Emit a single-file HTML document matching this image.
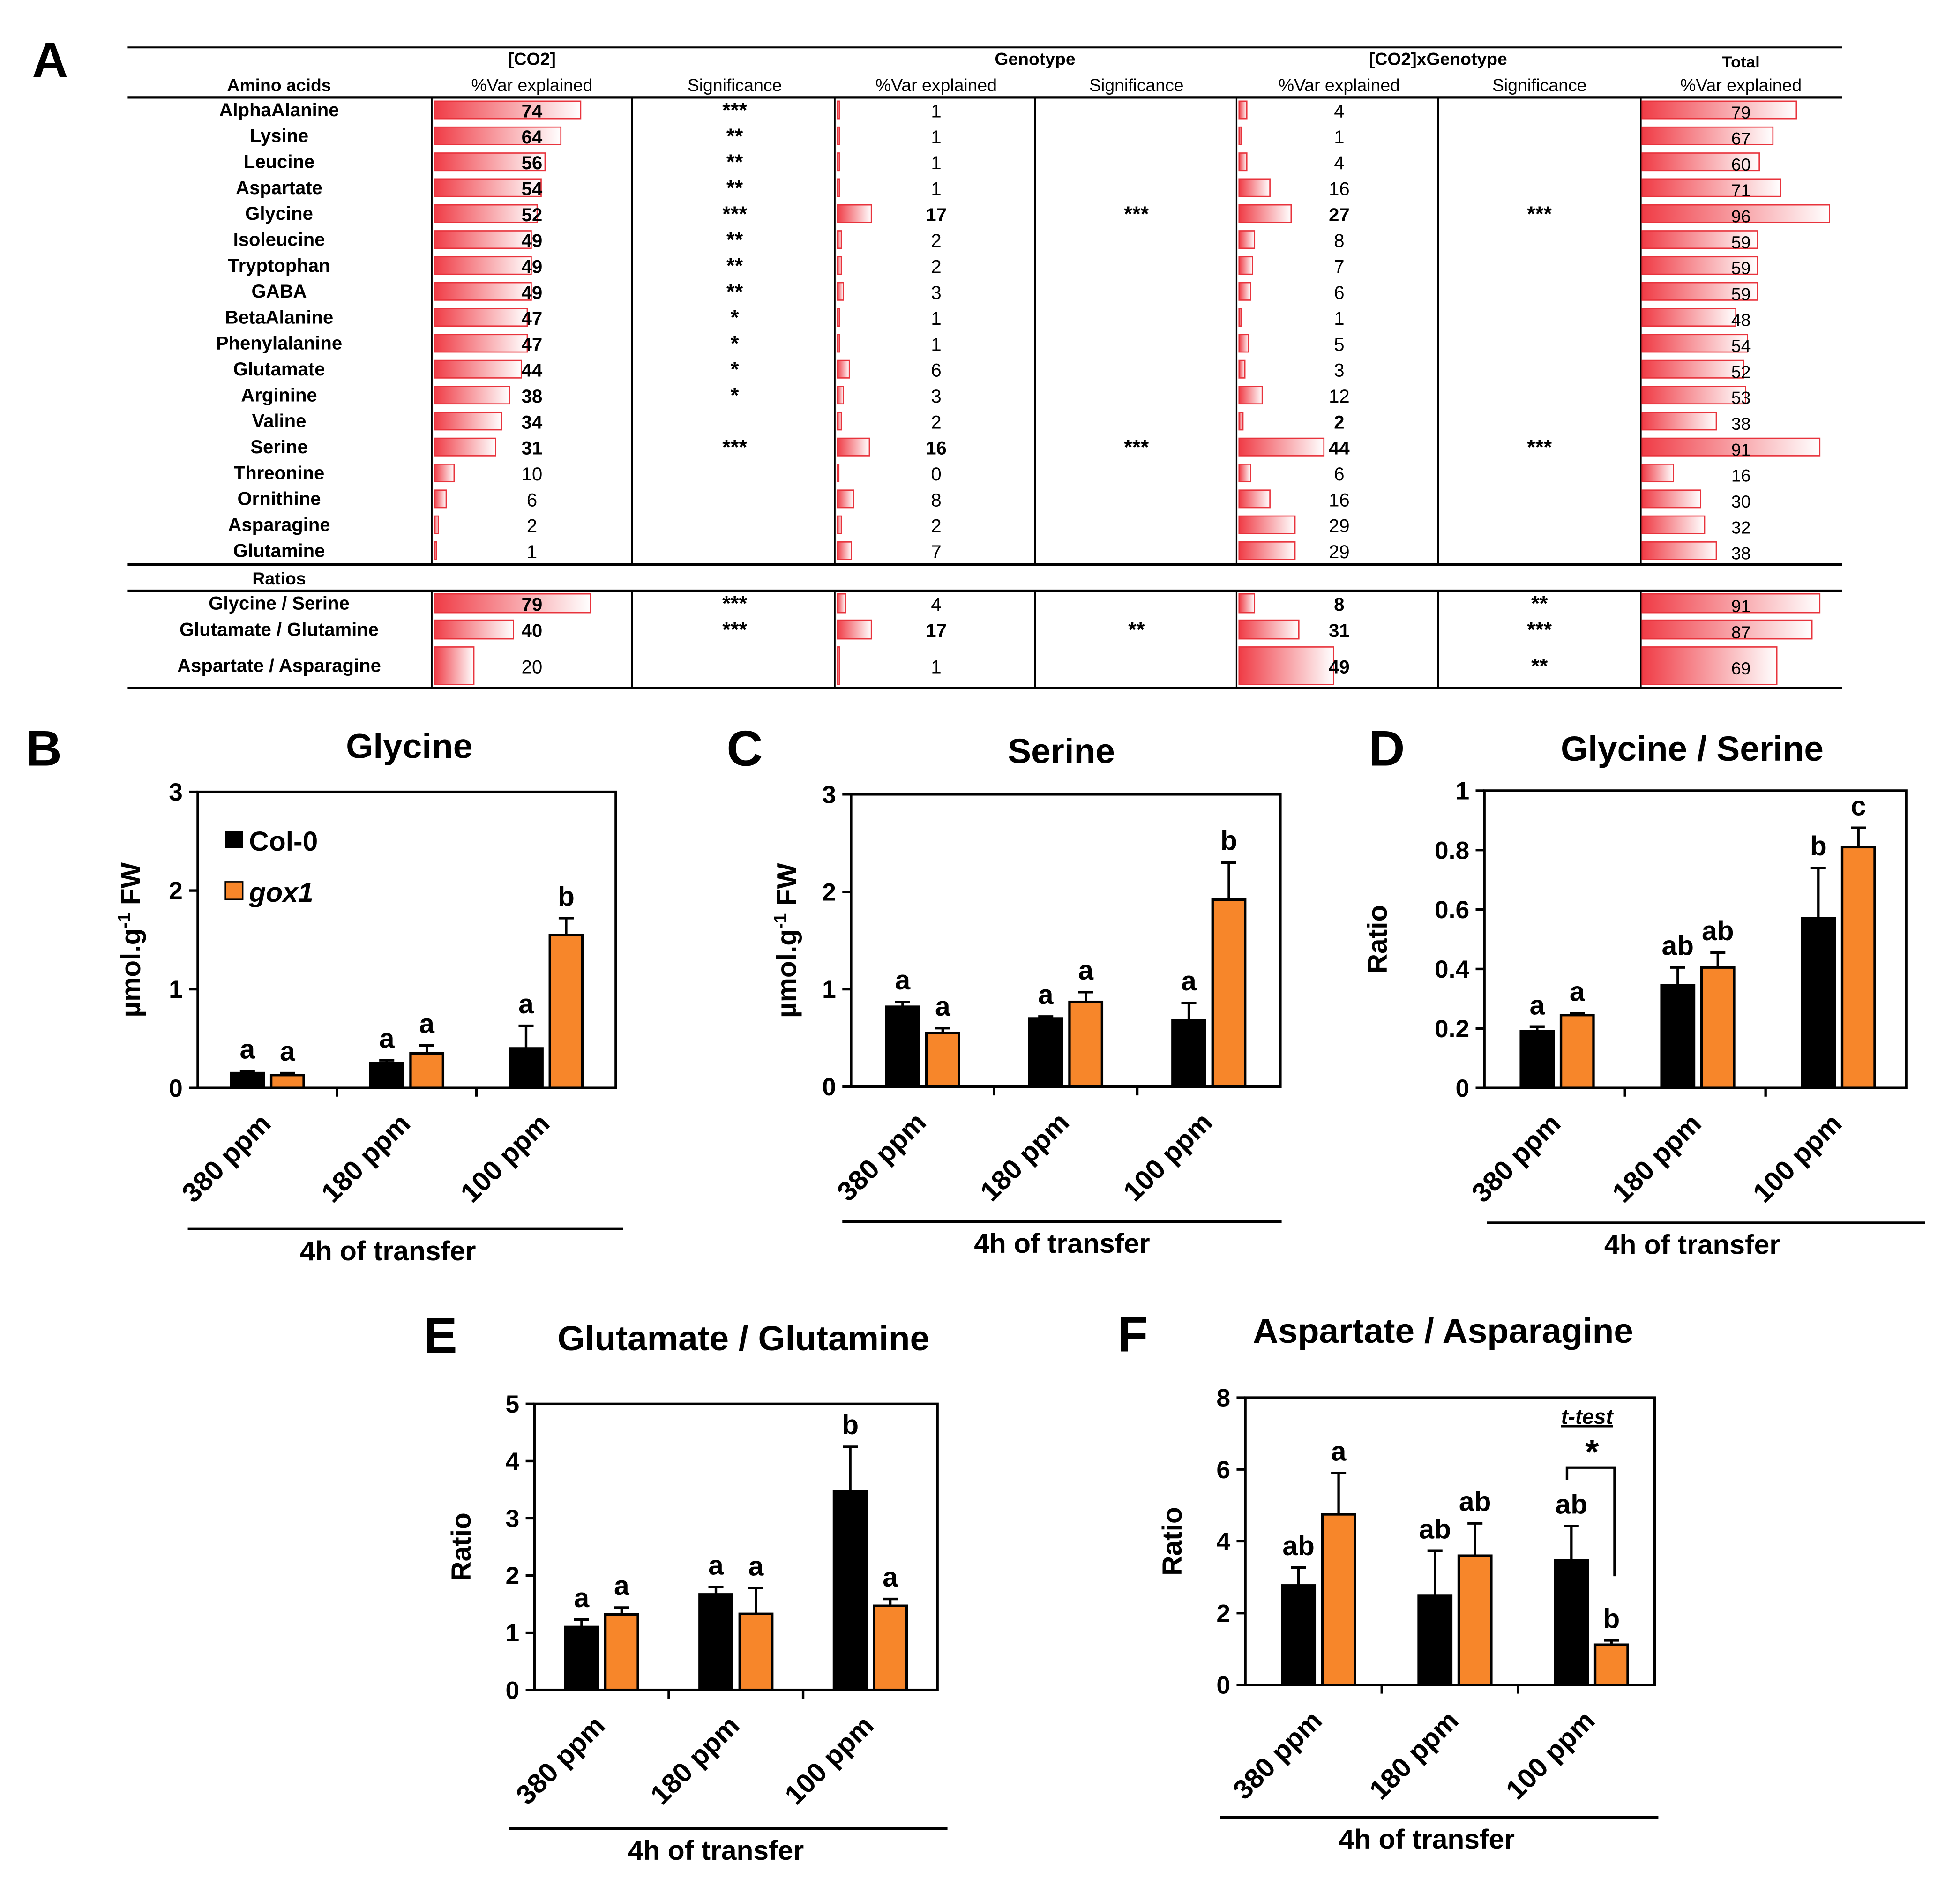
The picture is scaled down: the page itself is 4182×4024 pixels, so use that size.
<!DOCTYPE html>
<html><head><meta charset="utf-8"><style>
html,body{margin:0;padding:0;background:#fff}
svg{display:block;font-family:"Liberation Sans",Arial,sans-serif}
</style></head><body>
<svg id="fig" xmlns="http://www.w3.org/2000/svg" width="4182" height="4024" viewBox="0 0 1566 1510" preserveAspectRatio="none">
<defs><linearGradient id="rg" x1="0" x2="1" y1="0" y2="0"><stop offset="0" stop-color="#f03c46"/><stop offset="1" stop-color="#ffffff"/></linearGradient></defs>
<g id="table"></g>
<g id="charts"></g>
</svg>
<script>
const aaNames=["AlphaAlanine","Lysine","Leucine","Aspartate","Glycine","Isoleucine","Tryptophan","GABA","BetaAlanine","Phenylalanine","Glutamate","Arginine","Valine","Serine","Threonine","Ornithine","Asparagine","Glutamine"];
const co2Var=[74,64,56,54,52,49,49,49,47,47,44,38,34,31,10,6,2,1];
const co2Sig=["***","**","**","**","***","**","**","**","*","*","*","*","","***","","","",""];
const co2Bold=[1,1,1,1,1,1,1,1,1,1,1,1,1,1,0,0,0,0];
const genoVar=[1,1,1,1,17,2,2,3,1,1,6,3,2,16,0,8,2,7];
const genoSig=["","","","","***","","","","","","","","","***","","","",""];
const cxgVar=[4,1,4,16,27,8,7,6,1,5,3,12,2,44,6,16,29,29];
const cxgSig=["","","","","***","","","","","","","","","***","","","",""];
const cxgBold=[0,0,0,0,1,0,0,0,0,0,0,0,1,1,0,0,0,0];
const totalVar=[79,67,60,71,96,59,59,59,48,54,52,53,38,91,16,30,32,38];
const ratioNames=["Glycine / Serine","Glutamate / Glutamine","Aspartate / Asparagine"];
const rCo2=[79,40,20],rCo2Sig=["***","***",""],rCo2Bold=[1,1,0];
const rGeno=[4,17,1],rGenoSig=["","**",""],rGenoBold=[0,1,0];
const rCxg=[8,31,49],rCxgSig=["**","***","**"],rCxgBold=[1,1,1];
const rTotal=[91,87,69];

const groups=["380 ppm","180 ppm","100 ppm"];
const glyCol=[0.15,0.25,0.40],glyColErr=[0.02,0.03,0.23],glyGox=[0.13,0.35,1.55],glyGoxErr=[0.02,0.08,0.17];
const glyLetCol=["a","a","a"],glyLetGox=["a","a","b"];
const serCol=[0.82,0.70,0.68],serColErr=[0.05,0.02,0.18],serGox=[0.55,0.87,1.92],serGoxErr=[0.05,0.10,0.38];
const serLetCol=["a","a","a"],serLetGox=["a","a","b"];
const gsCol=[0.19,0.345,0.57],gsColErr=[0.015,0.06,0.17],gsGox=[0.245,0.405,0.81],gsGoxErr=[0.006,0.05,0.065];
const gsLetCol=["a","ab","b"],gsLetGox=["a","ab","c"];
const ggCol=[1.10,1.67,3.47],ggColErr=[0.13,0.13,0.78],ggGox=[1.32,1.33,1.47],ggGoxErr=[0.12,0.45,0.12];
const ggLetCol=["a","a","b"],ggLetGox=["a","a","a"];
const aaCol=[2.77,2.48,3.47],aaColErr=[0.5,1.25,0.95],aaGox=[4.75,3.6,1.12],aaGoxErr=[1.15,0.9,0.12];
const aaLetCol=["ab","ab","ab"],aaLetGox=["a","ab","b"];

const NS="http://www.w3.org/2000/svg";
function mk(parent,tag,attrs,txt){const e=document.createElementNS(NS,tag);for(const k in attrs)e.setAttribute(k,attrs[k]);if(txt!==undefined)e.textContent=txt;parent.appendChild(e);return e;}
const T=document.getElementById('table');
function line(p,x1,y1,x2,y2,w){return mk(p,'line',{x1,y1,x2,y2,stroke:'#000','stroke-width':w||1.5});}
function txt(p,x,y,s,size,opts){opts=opts||{};return mk(p,'text',{x,y,'font-size':size,'font-weight':opts.bold?'bold':'normal','text-anchor':opts.anchor||'middle','font-style':opts.italic?'italic':'normal',fill:'#000'},s);}

line(T,102,38,1472,38,1.5);line(T,102,78,1472,78,2);line(T,102,452,1472,452,2);line(T,102,473,1472,473,2);line(T,102,551,1472,551,2);
[345,505,667,827,988,1149,1311].forEach(x=>{line(T,x,78,x,452,1.2);line(T,x,473,x,551,1.2);});
[["[CO2]",425],["Genotype",827],["[CO2]xGenotype",1149]].forEach(h=>{let e=txt(T,h[1],52,h[0],14,{bold:true});});
let tt=txt(T,1391,54,"Total",13,{bold:true});
[["Amino acids",223],["%Var explained",425],["Significance",587],["%Var explained",748],["Significance",908],["%Var explained",1070],["Significance",1230],["%Var explained",1391]].forEach(h=>{let e=txt(T,h[1],73,h[0],14,{bold:h[0]=="Amino acids"});});
let rl=txt(T,223,468,"Ratios",14,{bold:true});
function bar(x,y,h,v,k){const r=mk(T,'rect',{x,y,width:Math.max(v*k,1.2),height:h,fill:'url(#rg)',stroke:'#e8333c','stroke-width':1});}
function row(y,name,c,cs,cb,g,gs,gb,x,xs,xb,t,bh){
  const n=txt(T,223,y+5,name,15,{bold:true});
  bar(347,y-bh/2,bh,c,1.58);txt(T,425,y+6,c,15,{bold:cb});txt(T,587,y+6,cs,17,{bold:true});
  bar(669,y-bh/2,bh,g,1.6);txt(T,748,y+6,g,15,{bold:gb});txt(T,908,y+6,gs,17,{bold:true});
  bar(990,y-bh/2,bh,x,1.54);txt(T,1070,y+6,x,15,{bold:xb});txt(T,1230,y+6,xs,17,{bold:true});
  bar(1312,y-bh/2,bh,t,1.56);txt(T,1391,y+7,t,14,{});
}
aaNames.forEach((n,i)=>row(88+i*20.76,n,co2Var[i],co2Sig[i],co2Bold[i],genoVar[i],genoSig[i],!!genoSig[i],cxgVar[i],cxgSig[i],cxgBold[i],totalVar[i],14));
const ry=[483,504,533],rh=[15,15,30];
ratioNames.forEach((n,i)=>row(ry[i],n,rCo2[i],rCo2Sig[i],rCo2Bold[i],rGeno[i],rGenoSig[i],rGenoBold[i],rCxg[i],rCxgSig[i],rCxgBold[i],rTotal[i],rh[i]));

const C=document.getElementById('charts');
[["A",40,62],["B",35,613],["C",595,613],["D",1108,613],["E",352,1083],["F",905,1082]].forEach(p=>{const e=txt(C,p[1],p[2],p[0],40,{bold:true});});

function chart(o){
  const g=mk(C,'g',{});
  const y=v=>o.y0-(v/o.ymax)*(o.y0-o.y1);
  txt(g,o.tx,o.ty,o.title,28,{bold:true});
  mk(g,'rect',{x:o.x0,y:o.y1,width:o.x1-o.x0,height:o.y0-o.y1,fill:'none',stroke:'#000','stroke-width':2});
  for(let v=0;v<=o.ymax+1e-9;v+=o.step){const yy=y(v);line(g,o.x0-7,yy,o.x0,yy,2);txt(g,o.x0-12,yy+7,(Math.round(v*10)/10).toString(),20,{bold:true,anchor:'end'});}
  const gw=(o.x1-o.x0)/3;
  for(let k=1;k<3;k++)line(g,o.x0+gw*k,o.y0,o.x0+gw*k,o.y0+7,2);
  const yl=mk(g,'text',{x:0,y:0,'font-size':22,'font-weight':'bold','text-anchor':'middle',transform:`translate(${o.ylx},${(o.y0+o.y1)/2}) rotate(-90)`});
  if(o.ylab=='umol'){yl.innerHTML='µmol.g<tspan dy="-8" font-size="14">-1</tspan><tspan dy="8"> FW</tspan>';}else yl.textContent=o.ylab;
  
  const bw=26;
  for(let i=0;i<3;i++){
    const cx=o.x0+gw*(i+0.5)+o.off;
    [[o.col,o.colE,o.lc,'#000',cx-bw-3],[o.gox,o.goxE,o.lg,'#f7862a',cx+3]].forEach((s,j)=>{
      const v=s[0][i],e=s[1][i],bx=s[4];
      const r=mk(g,'rect',{x:bx,y:y(v),width:bw,height:o.y0-y(v),fill:s[3],stroke:'#000','stroke-width':2});
      
      const m=bx+bw/2;line(g,m,y(v+e),m,y(v),2);line(g,m-6,y(v+e),m+6,y(v+e),2);
      if(j==0)line(g,m,y(v),m,y(Math.max(v-e,0)),2);
      txt(g,m,y(v+e)-10,s[2][i],22,{bold:true});
    });
    const lx=o.x0+gw*(i+0.5)+o.off+4,ly=o.y0+30;
    const t=mk(g,'text',{x:0,y:0,'font-size':22,'font-weight':'bold','text-anchor':'end',transform:`translate(${lx},${ly}) rotate(-45)`},groups[i]);
    
  }
  line(g,o.lx0,o.ly,o.lx1,o.ly,2);
  txt(g,(o.lx0+o.lx1)/2+o.toff,o.ly+25,"4h of transfer",22,{bold:true});
  return {g,y};
}
const b=chart({name:'glycine-chart',title:'Glycine',tx:327,ty:607,x0:158,x1:492,y0:871,y1:634,ymax:3,step:1,off:0,col:glyCol,colE:glyColErr,gox:glyGox,goxE:glyGoxErr,lc:glyLetCol,lg:glyLetGox,ylab:'umol',ylx:112,lx0:150,lx1:498,ly:984,toff:-14});
const lg=mk(b.g,'g',{});
mk(lg,'rect',{x:180,y:665,width:14,height:14,fill:'#000'});txt(lg,199,681,'Col-0',22,{bold:true,anchor:'start'});
mk(lg,'rect',{x:180,y:706,width:14,height:14,fill:'#f7862a',stroke:'#000','stroke-width':1});txt(lg,199,722,'gox1',22,{bold:true,italic:true,anchor:'start'});
chart({name:'serine-chart',title:'Serine',tx:848,ty:611,x0:680,x1:1023,y0:870,y1:636,ymax:3,step:1,off:0,col:serCol,colE:serColErr,gox:serGox,goxE:serGoxErr,lc:serLetCol,lg:serLetGox,ylab:'umol',ylx:636,lx0:673,lx1:1024,ly:978,toff:0});
chart({name:'glycine-serine-chart',title:'Glycine / Serine',tx:1352,ty:609,x0:1186,x1:1523,y0:871,y1:633,ymax:1,step:0.2,off:2,col:gsCol,colE:gsColErr,gox:gsGox,goxE:gsGoxErr,lc:gsLetCol,lg:gsLetGox,ylab:'Ratio',ylx:1108,lx0:1188,lx1:1538,ly:979,toff:-11});
chart({name:'glutamate-glutamine-chart',title:'Glutamate / Glutamine',tx:594,ty:1081,x0:427,x1:749,y0:1353,y1:1124,ymax:5,step:1,off:0,col:ggCol,colE:ggColErr,gox:ggGox,goxE:ggGoxErr,lc:ggLetCol,lg:ggLetGox,ylab:'Ratio',ylx:376,lx0:407,lx1:757,ly:1464,toff:-10});
const f=chart({name:'aspartate-asparagine-chart',title:'Aspartate / Asparagine',tx:1153,ty:1075,x0:995,x1:1322,y0:1349,y1:1119,ymax:8,step:2,off:4,col:aaCol,colE:aaColErr,gox:aaGox,goxE:aaGoxErr,lc:aaLetCol,lg:aaLetGox,ylab:'Ratio',ylx:944,lx0:975,lx1:1325,ly:1455,toff:-10});
const tl=txt(f.g,1268,1140,'t-test',17,{bold:true,italic:true});tl.setAttribute('text-decoration','underline');

const br=mk(f.g,'polyline',{points:'1252,1185 1252,1175 1290,1175 1290,1262',fill:'none',stroke:'#000','stroke-width':2});

txt(f.g,1272,1172,'*',28,{bold:true});
</script>
</body></html>
